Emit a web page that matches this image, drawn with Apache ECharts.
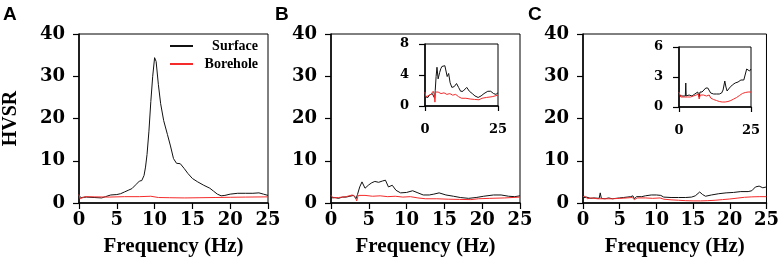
<!DOCTYPE html>
<html>
<head>
<meta charset="utf-8">
<script src="https://cdn.jsdelivr.net/npm/echarts@6/dist/echarts.min.js"></script>
<style>
  html, body { margin: 0; padding: 0; background: #fff; }
  #chart { width: 782px; height: 268px; }
</style>
</head>
<body>
<div id="chart"></div>
<script>
// HVSR curves, [frequency Hz, ratio]
const surfaceA = [[0,1.6],[0.3,1.3],[1,1.4],[2,1.3],[3,1.2],[3.5,1.5],[4.2,1.9],[5,2.0],[5.5,2.2],[6,2.6],[6.5,3.0],[7,3.4],[7.5,4.3],[8,5.2],[8.3,5.3],[8.6,6.5],[8.8,8.5],[9.0,11.5],[9.25,17],[9.5,24],[9.75,30],[10.0,34.4],[10.2,33.5],[10.5,28],[10.8,23.5],[11.2,19.5],[11.7,16.2],[12.1,13.5],[12.5,10.5],[12.9,9.4],[13.4,9.3],[13.9,8.2],[14.4,7.0],[15.0,5.8],[15.7,5.0],[16.5,4.2],[17.3,3.5],[17.8,2.8],[18.3,2.1],[18.8,1.7],[19.3,1.8],[20,2.1],[21,2.3],[22,2.3],[23,2.3],[23.8,2.4],[24.4,2.1],[25,1.8]]
const boreholeA = [[0,2.0],[0.15,1.0],[0.4,1.1],[0.8,1.5],[2,1.45],[4,1.4],[6,1.5],[8,1.5],[9.5,1.6],[10.5,1.3],[12,1.25],[14,1.2],[16,1.25],[18,1.3],[20,1.35],[22,1.4],[25,1.45]]

const surfaceB = [[0,1.2],[0.5,1.3],[1,1.1],[1.5,1.4],[2,1.4],[2.5,1.6],[3.0,1.8],[3.3,1.0],[3.5,2.0],[3.8,3.8],[4.1,5.0],[4.5,3.5],[5.0,4.3],[5.4,4.8],[5.8,5.1],[6.3,4.9],[6.8,5.2],[7.2,5.4],[7.6,3.8],[8.1,4.2],[8.6,3.0],[9.2,2.4],[10,2.5],[10.8,2.9],[11.5,2.4],[12.2,1.9],[13,1.9],[13.6,2.1],[14.3,2.4],[15.2,1.9],[16.2,1.6],[17.1,1.3],[18.2,1.1],[19.2,1.3],[20.2,1.6],[21.5,1.9],[22.5,1.9],[23.5,1.6],[24.3,1.5],[25,1.7]]
const boreholeB = [[0,1.8],[0.3,1.2],[1,1.3],[2,1.5],[2.8,1.9],[3.2,1.5],[3.4,0.5],[3.6,1.8],[4.5,1.8],[5.5,1.6],[6.5,1.7],[7.5,1.5],[8.5,1.6],[9.5,1.4],[10.5,1.5],[11.5,1.2],[12.5,1.0],[14,1.0],[15.5,0.9],[17,0.85],[18.5,0.8],[19.5,1.0],[21,1.1],[23,1.2],[25,1.4]]

const surfaceC = [[0,1.2],[0.5,1.4],[1,1.1],[1.5,1.2],[2.2,1.1],[2.35,2.4],[2.5,1.1],[3,1.0],[3.5,1.2],[4,1.0],[4.5,1.1],[5,1.2],[5.5,1.3],[6,1.4],[6.5,1.5],[6.8,1.7],[7,1.0],[7.3,1.5],[8,1.5],[8.5,1.7],[9.3,1.9],[10,1.9],[10.6,1.8],[11,1.4],[12,1.3],[13,1.3],[14,1.3],[14.8,1.4],[15.3,1.7],[15.9,2.6],[16.3,2.0],[16.7,1.6],[17.5,1.9],[18.5,2.2],[19.5,2.4],[20.5,2.5],[21.5,2.7],[22.5,2.7],[23,2.9],[23.5,3.8],[24,4.0],[24.5,3.6],[25,3.8]]
const boreholeC = [[0,1.5],[0.3,1.6],[0.6,1.0],[1,1.2],[2,1.0],[3,1.0],[4,1.0],[5,1.1],[6,1.2],[6.7,1.3],[7,0.8],[7.4,1.2],[8.5,1.2],[9.5,1.1],[10.5,1.2],[11,0.9],[12,0.75],[13,0.65],[14,0.55],[15,0.5],[16,0.5],[17,0.55],[18,0.65],[19,0.8],[20,0.95],[21,1.15],[22,1.35],[23,1.45],[24,1.5],[25,1.5]]

const panelLetters = ['A', 'B', 'C']
const seriesNames = ['Surface', 'Borehole']

const chart = echarts.init(document.getElementById('chart'))

const serif = 'DejaVu Serif'
const labelFont = 'Liberation Serif'

// main panels and insets, pixel boxes
const grids = [
  { left: 78, top: 34, width: 190, height: 169 },
  { left: 331, top: 34, width: 189, height: 169 },
  { left: 583, top: 34, width: 189, height: 169 },
  { left: 425, top: 44, width: 73, height: 62 },
  { left: 679, top: 47, width: 72, height: 60 }
].map(g => Object.assign({ show: true, borderColor: '#000', borderWidth: 1 }, g))

function xAxis(i, inset) {
  return {
    type: 'value', gridIndex: i, min: 0, max: 25, interval: inset ? 25 : 5,
    axisLine: { lineStyle: { color: '#000', width: 1.5 } },
    axisTick: { length: inset ? 5 : 6, lineStyle: { color: '#000', width: 1.2 } },
    axisLabel: { color: '#000', fontFamily: serif, fontWeight: 'bold', fontSize: inset ? 13 : 18, margin: inset ? 17 : 8 },
    splitLine: { show: false },
    name: inset ? '' : 'Frequency (Hz)',
    nameLocation: 'middle', nameGap: 33,
    nameTextStyle: { color: '#000', fontFamily: labelFont, fontWeight: 'bold', fontSize: 21 }
  }
}

function yAxis(i, max, interval, inset) {
  return {
    type: 'value', gridIndex: i, min: 0, max: max, interval: interval,
    axisLine: { show: true, lineStyle: { color: '#000', width: 1.5 } },
    axisTick: { show: true, length: 6, lineStyle: { color: '#000', width: 1.2 } },
    axisLabel: { color: '#000', fontFamily: serif, fontWeight: 'bold', fontSize: inset ? 13 : 18, margin: inset ? 16 : 14 },
    splitLine: { show: false },
    name: i === 0 ? 'HVSR' : '',
    nameLocation: 'middle', nameGap: 58,
    nameTextStyle: { color: '#000', fontFamily: labelFont, fontWeight: 'bold', fontSize: 20 }
  }
}

function line(name, data, idx, color) {
  return {
    name: name, type: 'line', data: data, xAxisIndex: idx, yAxisIndex: idx,
    showSymbol: false, symbol: 'none', animation: false,
    lineStyle: { color: color, width: 1 }, itemStyle: { color: color }
  }
}

const black = '#111'
const red = '#f52a2a'

chart.setOption({
  animation: false,
  grid: grids,
  title: panelLetters.map((t, i) => ({
    text: t, left: [3, 275, 528][i], top: 5, padding: 0,
    textStyle: { fontFamily: 'Liberation Sans', fontWeight: 'bold', fontSize: 19, color: '#000' }
  })),
  legend: {
    data: seriesNames, orient: 'vertical', left: 170, top: 39, padding: 0,
    itemWidth: 23, itemHeight: 2, itemGap: 4, icon: 'rect',
    formatter: '{r|{name}}',
    textStyle: {
      color: '#000',
      rich: { r: { width: 60, align: 'right', fontFamily: labelFont, fontWeight: 'bold', fontSize: 14, lineHeight: 13 } }
    }
  },
  xAxis: [xAxis(0), xAxis(1), xAxis(2), xAxis(3, true), xAxis(4, true)],
  yAxis: [yAxis(0, 40, 10), yAxis(1, 40, 10), yAxis(2, 40, 10), yAxis(3, 8, 4, true), yAxis(4, 6, 3, true)],
  series: [
    line('Surface', surfaceA, 0, black),
    line('Borehole', boreholeA, 0, red),
    line('Surface', surfaceB, 1, black),
    line('Borehole', boreholeB, 1, red),
    line('Surface', surfaceC, 2, black),
    line('Borehole', boreholeC, 2, red),
    line('Surface', surfaceB, 3, black),
    line('Borehole', boreholeB, 3, red),
    line('Surface', surfaceC, 4, black),
    line('Borehole', boreholeC, 4, red)
  ]
})
</script>
</body>
</html>
